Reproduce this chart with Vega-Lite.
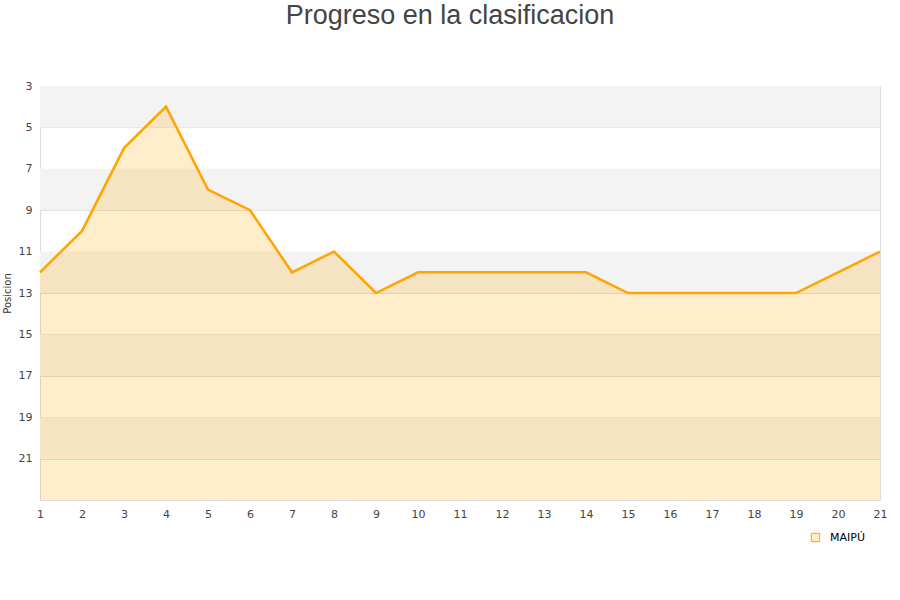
{
  "$schema": "https://vega.github.io/schema/vega-lite/v6.json",
  "width": 840,
  "height": 414,
  "autosize": {"type": "none"},
  "padding": {"left": 40, "top": 86, "right": 20, "bottom": 100},
  "background": "white",
  "title": {"text": "Progreso en la clasificacion", "fontSize": 27, "font": "Liberation Sans", "fontWeight": "normal", "color": "#444444", "anchor": "middle", "offset": 50, "dx": -10},
  "config": {"view": {"stroke": "#dddddd"}, "font": "DejaVu Sans"},
  "datasets": {
    "bands": [
      {"y1": 3, "y2": 5}, {"y1": 7, "y2": 9}, {"y1": 11, "y2": 13}, {"y1": 15, "y2": 17}, {"y1": 19, "y2": 21}
    ],
    "pos": [
      {"jornada": 1, "posicion": 12, "equipo": "MAIPÚ"},
      {"jornada": 2, "posicion": 10, "equipo": "MAIPÚ"},
      {"jornada": 3, "posicion": 6, "equipo": "MAIPÚ"},
      {"jornada": 4, "posicion": 4, "equipo": "MAIPÚ"},
      {"jornada": 5, "posicion": 8, "equipo": "MAIPÚ"},
      {"jornada": 6, "posicion": 9, "equipo": "MAIPÚ"},
      {"jornada": 7, "posicion": 12, "equipo": "MAIPÚ"},
      {"jornada": 8, "posicion": 11, "equipo": "MAIPÚ"},
      {"jornada": 9, "posicion": 13, "equipo": "MAIPÚ"},
      {"jornada": 10, "posicion": 12, "equipo": "MAIPÚ"},
      {"jornada": 11, "posicion": 12, "equipo": "MAIPÚ"},
      {"jornada": 12, "posicion": 12, "equipo": "MAIPÚ"},
      {"jornada": 13, "posicion": 12, "equipo": "MAIPÚ"},
      {"jornada": 14, "posicion": 12, "equipo": "MAIPÚ"},
      {"jornada": 15, "posicion": 13, "equipo": "MAIPÚ"},
      {"jornada": 16, "posicion": 13, "equipo": "MAIPÚ"},
      {"jornada": 17, "posicion": 13, "equipo": "MAIPÚ"},
      {"jornada": 18, "posicion": 13, "equipo": "MAIPÚ"},
      {"jornada": 19, "posicion": 13, "equipo": "MAIPÚ"},
      {"jornada": 20, "posicion": 12, "equipo": "MAIPÚ"},
      {"jornada": 21, "posicion": 11, "equipo": "MAIPÚ"}
    ]
  },
  "layer": [
    {
      "data": {"name": "bands"},
      "mark": {"type": "rect", "fill": "#f3f3f3"},
      "encoding": {
        "y": {"field": "y1", "type": "quantitative", "scale": {"domain": [3, 23], "reverse": true, "nice": false, "zero": false},
          "axis": {"values": [3,5,7,9,11,13,15,17,19,21], "title": "Posicion", "titleFontSize": 10, "titleFontWeight": "normal", "titleColor": "#333333", "titlePadding": 6, "labelFontSize": 11, "labelColor": "#444444", "grid": true, "gridColor": "#dddddd", "domain": false, "ticks": false, "labelPadding": 8}},
        "y2": {"field": "y2"}
      }
    },
    {
      "data": {"name": "pos"},
      "mark": {"type": "area", "color": "#FFA500", "opacity": 0.2},
      "encoding": {
        "x": {"field": "jornada", "type": "quantitative", "scale": {"domain": [1, 21], "nice": false, "zero": false},
          "axis": {"values": [1,2,3,4,5,6,7,8,9,10,11,12,13,14,15,16,17,18,19,20,21], "title": null, "grid": false, "ticks": false, "domainColor": "#dddddd", "labelFontSize": 11, "labelColor": "#444444", "labelPadding": 8, "labelFlush": false}},
        "y": {"field": "posicion", "type": "quantitative"},
        "y2": {"datum": 23}
      }
    },
    {
      "data": {"name": "pos"},
      "mark": {"type": "line", "strokeWidth": 2.5},
      "encoding": {
        "x": {"field": "jornada", "type": "quantitative"},
        "y": {"field": "posicion", "type": "quantitative"},
        "color": {"field": "equipo", "type": "nominal", "scale": {"range": ["#FFA500"]},
          "legend": {"orient": "none", "legendX": 770, "legendY": 446, "title": null, "symbolType": "square", "symbolFillColor": "#FFEDCC", "symbolStrokeColor": "#888888", "symbolStrokeWidth": 1, "symbolSize": 70, "labelOffset": 9, "labelFontSize": 11, "labelColor": "#000000"}}
      }
    }
  ]
}
